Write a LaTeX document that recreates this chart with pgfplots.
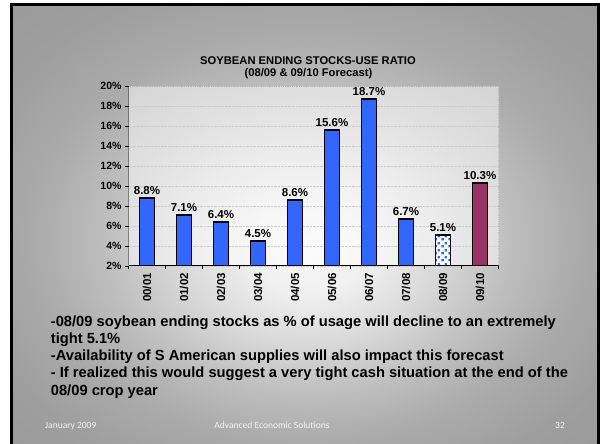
\documentclass[border=0pt]{standalone}
\usepackage{pgfplots}
\pgfplotsset{compat=1.18}
\usepackage{fontspec}
\setmainfont{Liberation Sans}
\newfontfamily\footfont{Carlito}
\usetikzlibrary{patterns.meta}

\definecolor{barblue}{HTML}{3366FF}
\definecolor{barmaroon}{HTML}{993366}
\definecolor{footgray}{HTML}{F4F4F4}

% slide background: light centre fading to grey edges
% (the central 50bp square of a shading is fitted to the path)
\pgfdeclareradialshading{slidebg}{\pgfpoint{0.4bp}{-3.5bp}}{%
  color(0bp)=(gray!6!white);
  color(5bp)=(gray!12!white);
  color(11bp)=(gray!30!white);
  color(17bp)=(gray!50!white);
  color(23bp)=(gray!66!white);
  color(30bp)=(gray!76!white);
  color(42bp)=(gray!82!white)}

% scattered square dots for the forecast bar
\tikzdeclarepattern{
  name=squaredots,
  type=uncolored,
  bottom left={(0bp,0bp)},
  top right={(7bp,7bp)},
  tile size={(7bp,7bp)},
  code={
    \fill (0.5bp,0.6bp) rectangle (3.0bp,3.1bp);
    \fill (4.0bp,3.9bp) rectangle (6.5bp,6.4bp);
  }
}

\begin{document}
\begin{tikzpicture}
\useasboundingbox (0,0) rectangle (600bp,444bp);
\fill[white] (0,0) rectangle (600bp,444bp);
\shade[shading=slidebg] (11bp,0) rectangle (599bp,440bp);
\draw[line width=2.6bp] (11.3bp,-5bp) -- (11.3bp,439.7bp) -- (598.7bp,439.7bp) -- (598.7bp,-5bp);

\node[font=\fontsize{11.2bp}{13bp}\selectfont\bfseries] at (308bp,383bp) {SOYBEAN ENDING STOCKS-USE RATIO};
\node[font=\fontsize{11.2bp}{13bp}\selectfont\bfseries] at (308.5bp,370.7bp) {(08/09 \& 09/10 Forecast)};

\begin{axis}[
  at={(128.5bp,178bp)}, anchor=south west,
  scale only axis, width=370bp, height=180bp,
  xmin=-0.5, xmax=9.5, ymin=2, ymax=20,
  axis background/.style={fill=white, fill opacity=0.5},
  axis line style={draw=none},
  /pgf/number format/assume math mode=true,
  ytick={2,4,...,20},
  yticklabel={\pgfmathprintnumber{\tick}\%},
  ytick pos=left, xtick pos=bottom,
  tick align=outside,
  major tick length=3.5bp, minor tick length=3.5bp,
  tick style={black, line width=0.8bp},
  xtick={0,...,9},
  xticklabels={00/01,01/02,02/03,03/04,04/05,05/06,06/07,07/08,08/09,09/10},
  minor xtick={-0.5,0.5,...,9.5},
  every major x tick/.append style={draw=none},
  xticklabel style={rotate=90, anchor=east, font=\fontsize{11.5bp}{13bp}\selectfont\bfseries},
  yticklabel style={font=\fontsize{10.5bp}{12bp}\selectfont\bfseries},
  ymajorgrids,
  y grid style={densely dotted, gray!40},
  nodes near coords={\pgfmathprintnumber[fixed,fixed zerofill,precision=1]{\pgfplotspointmeta}\%},
  nodes near coords style={font=\fontsize{11.5bp}{13bp}\selectfont\bfseries, anchor=south, inner sep=3bp, text=black},
]
\addplot[ybar, bar width=15bp, bar shift=0pt, fill=barblue, draw=black, line width=1.1bp]
  coordinates {(0,8.8) (1,7.1) (2,6.4) (3,4.5) (4,8.6) (5,15.6) (6,18.7) (7,6.7)};
\addplot[ybar, bar width=15bp, bar shift=0pt, fill=white, draw=black, line width=1.1bp,
  postaction={pattern=squaredots, pattern color=barblue}]
  coordinates {(8,5.1)};
\addplot[ybar, bar width=15bp, bar shift=0pt, fill=barmaroon, draw=black, line width=1.1bp]
  coordinates {(9,10.3)};
\draw[gray!60, densely dotted, line width=0.8bp] (rel axis cs:0,1) -- (rel axis cs:1,1) -- (rel axis cs:1,0);
\draw[black, line width=1.1bp] (rel axis cs:0,1) -- (rel axis cs:0,0) -- (rel axis cs:1,0);
\end{axis}

\begin{scope}[every node/.style={anchor=base west, inner sep=0pt, font=\fontsize{14.7bp}{16bp}\selectfont\bfseries}]
\node at (50.7bp,117.3bp) {-08/09 soybean ending stocks as \% of usage will decline to an extremely};
\node at (50.7bp,100bp) {tight 5.1\%};
\node at (50.7bp,83bp) {-Availability of S American supplies will also impact this forecast};
\node at (50.7bp,66bp) {- If realized this would suggest a very tight cash situation at the end of the};
\node at (50.7bp,48.3bp) {08/09 crop year};
\end{scope}

\begin{scope}[every node/.style={inner sep=0pt, text=footgray, font=\footfont\fontsize{9.5bp}{11bp}\selectfont}]
\node[anchor=west] at (45bp,18.3bp) {January 2009};
\node at (272bp,18.3bp) {Advanced Economic Solutions};
\node at (560bp,18.3bp) {32};
\end{scope}
\end{tikzpicture}
\end{document}
